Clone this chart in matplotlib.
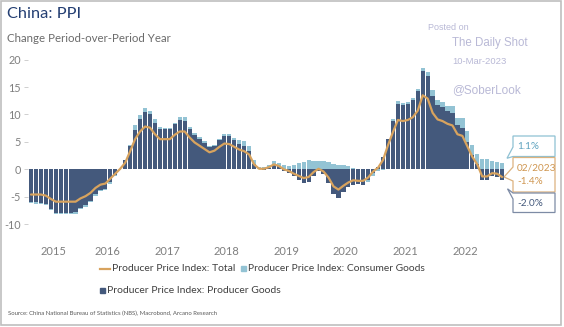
import numpy as np
import pandas as pd
import matplotlib
matplotlib.use("Agg")
import matplotlib.pyplot as plt
from matplotlib.patches import Polygon, Rectangle
from matplotlib.lines import Line2D

# ---------------------------------------------------------------- data
months = pd.period_range("2015-03", "2023-02", freq="M")

producer_goods = [
    -6.0, -6.0, -6.1, -6.4, -7.2, -7.9, -7.9, -7.9, -7.9, -7.8,                   # 2015
    -7.1, -6.5, -5.7, -4.5, -3.7, -3.5, -2.4, -1.1, 0.1, 1.7, 4.3, 7.2,            # 2016
    9.1, 10.4, 10.0, 8.5, 7.3, 7.3, 7.3, 8.2, 9.0, 8.9, 7.4, 6.3,                  # 2017
    5.5, 4.8, 4.0, 4.3, 5.3, 6.1, 6.0, 5.3, 4.7, 4.2, 3.3, 1.0,                    # 2018
    0.0, -0.1, 0.3, 1.0, 0.6, -0.3, -0.6, -1.3, -1.9, -2.5, -2.4, -1.2,            # 2019
    -0.3, -0.9, -2.5, -4.5, -5.2, -4.2, -3.3, -2.8, -2.7, -2.8, -2.0, -0.6,        # 2020
    0.4, 2.2, 5.6, 8.8, 12.0, 11.8, 12.0, 12.7, 14.2, 17.9, 17.0, 13.4,            # 2021
    11.8, 11.4, 10.7, 10.3, 8.1, 7.5, 5.0, 2.6, 0.9, -2.0, -2.0, -1.3,             # 2022
    -1.4, -2.0,                                                                   # 2023
]
consumer_goods = [
    -0.2, -0.3, -0.3, -0.2, -0.2, -0.3, -0.3, -0.3, -0.3, -0.3,
    -0.2, -0.3, -0.2, -0.3, -0.3, -0.2, -0.2, -0.2, 0.0, 0.0, 0.2, 0.8,
    0.8, 0.7, 0.6, 0.6, 0.4, 0.3, 0.2, 0.3, 0.6, 0.6, 0.4, 0.4,
    0.4, 0.4, 0.2, 0.2, 0.3, 0.4, 0.5, 0.5, 0.7, 0.9, 0.9, 0.7,
    0.5, 0.5, 0.5, 0.6, 0.6, 0.7, 0.6, 0.8, 1.1, 1.4, 1.7, 1.5,
    1.5, 1.5, 1.3, 1.0, 0.8, 0.7, 0.6, 0.3, 0.1, -0.1, -0.4, -0.6,
    -0.3, -0.2, 0.0, 0.3, 0.5, 0.3, 0.3, 0.3, 0.4, 0.6, 0.8, 1.0,
    0.8, 0.9, 0.9, 1.2, 1.2, 1.8, 2.0, 1.9, 1.9, 1.9, 1.8, 1.5,
    1.3, 1.1,
]
ppi_total = [
    -4.6, -4.6, -4.6, -4.8, -5.4, -5.9, -5.9, -5.9, -5.9, -5.9,
    -5.3, -4.9, -4.3, -3.4, -2.8, -2.6, -1.7, -0.8, 0.1, 1.2, 3.3, 5.5,
    6.9, 7.8, 7.6, 6.4, 5.5, 5.5, 5.5, 6.3, 6.9, 6.9, 5.8, 4.9,
    4.3, 3.7, 3.1, 3.4, 4.1, 4.7, 4.6, 4.1, 3.6, 3.3, 2.7, 0.9,
    0.1, 0.1, 0.4, 0.9, 0.6, 0.0, -0.3, -0.8, -1.2, -1.6, -1.4, -0.5,
    0.1, -0.4, -1.5, -3.1, -3.7, -3.0, -2.4, -2.0, -2.1, -2.1, -1.5, -0.4,
    0.3, 1.7, 4.4, 6.8, 9.0, 8.8, 9.0, 9.5, 10.7, 13.5, 12.9, 10.3,
    9.1, 8.8, 8.3, 8.0, 6.4, 6.1, 4.2, 2.3, 0.9, -1.3, -1.3, -0.7,
    -0.8, -1.4,
]
year_labels = [2015, 2016, 2017, 2018, 2019, 2020, 2021, 2022]
y_ticks = [-10, -5, 0, 5, 10, 15, 20]

label_total = "Producer Price Index: Total"
label_consumer = "Producer Price Index: Consumer Goods"
label_producer = "Producer Price Index: Producer Goods"

# ---------------------------------------------------------------- style
W, H = 564, 327
C_DARK = "#44597c"
C_LIGHT = "#93c3d4"
C_LINE = "#d8a35e"
C_TICK = "#7f7f7f"
C_TEXT = "#404040"
C_MARK = "#b9b9d6"
FONT = ["Lato", "DejaVu Sans"]
plt.rcParams["font.family"] = FONT


def fpos(x, y):
    """pixel position (origin top-left) -> figure fraction"""
    return x / W, 1 - y / H


fig = plt.figure(figsize=(W / 100, H / 100), dpi=100)
fig.patch.set_facecolor("white")

# plot area in pixels: left, top, right, bottom
L, T, R, B = 28, 48.7, 508, 235.1
ax = fig.add_axes([L / W, 1 - B / H, (R - L) / W, (B - T) / H])
ax.set_facecolor("none")

p = np.array(producer_goods)
c = np.array(consumer_goods)
t = np.array(ppi_total)
x = np.arange(len(months))

# consumer goods stack onto producer goods when both share a sign
c_base = np.where(np.sign(c) == np.sign(p), p, 0.0)

bw = 0.86
ax.bar(x, p, width=bw, color=C_DARK, linewidth=0, zorder=2)
ax.bar(x, c, width=bw, bottom=c_base, color=C_LIGHT, linewidth=0, zorder=2)
ax.plot(x, t, color=C_LINE, lw=1.6, zorder=3, solid_capstyle="round",
        solid_joinstyle="round")

ax.set_xlim(-0.6, 96.2)
ax.set_ylim(-12, 22)

# year labels centred on the visible part of each year
jan_idx = {yr: (pd.Period(f"{yr}-01", "M") - months[0]).n for yr in year_labels}
xl, xr = ax.get_xlim()
centres = []
for yr in year_labels:
    a = max(jan_idx[yr] - 0.5, xl)
    b = min(jan_idx[yr] + 11.5, xr)
    centres.append((a + b) / 2)
ax.set_xticks(centres)
ax.set_xticklabels([str(y) for y in year_labels])
ax.tick_params(axis="x", length=0, pad=8, labelsize=8, labelcolor=C_TICK)

ax.set_yticks(y_ticks)
ax.set_yticklabels([str(v) for v in y_ticks])
ax.tick_params(axis="y", length=3, width=0.6, color="#c8c8c8", pad=2,
               labelsize=7.8, labelcolor=C_TICK)
for s in ax.spines.values():
    s.set_visible(False)

# ---------------------------------------------------------------- titles
fig.text(*fpos(7, 14), "China: PPI", fontsize=11.8, color="#243f73",
         ha="left", va="center")
fig.text(*fpos(7, 38), "Change Period-over-Period Year", fontsize=8.3,
         color="#6b6b6b", ha="left", va="center")

# watermark
wm = ["Liberation Sans", "DejaVu Sans"]
fig.text(*fpos(428, 27), "Posted on", fontsize=6.5, color=C_MARK,
         family=wm, ha="left", va="center")
fig.text(*fpos(452, 43), "The Daily Shot", fontsize=8.3, color=C_MARK,
         family=wm, ha="left", va="center")
fig.text(*fpos(452, 61), "10-Mar-2023", fontsize=6.8, color=C_MARK,
         family=wm, ha="left", va="center")
fig.text(*fpos(452, 90), "@SoberLook", fontsize=8.5, color=C_MARK,
         family=wm, ha="left", va="center")

# ---------------------------------------------------------------- callouts
def data_px(xv, yv):
    dx, dy = ax.transData.transform((xv, yv))
    fx, fy = fig.transFigure.inverted().transform((dx, dy))
    return fx * W, (1 - fy) * H


last = x[-1]
_, yc = data_px(last, c_base[-1] + c[-1])
_, yt = data_px(last, t[-1])
_, yp = data_px(last, p[-1])
bx0, bx1 = 513, 555


def callout(pts, edge):
    poly = Polygon([fpos(px, py) for px, py in pts], closed=True,
                   transform=fig.transFigure, facecolor="white",
                   edgecolor=edge, lw=0.9, zorder=5)
    fig.add_artist(poly)


# consumer goods box
callout([(bx0, 136), (bx1, 136), (bx1, 156.5), (bx0, 156.5),
         (507, yc - 5), (bx0, 147)], "#8fc1d3")
fig.text(*fpos(517, 146.5), f"{c[-1]:.1f}%", fontsize=7.2, color="#5fa3bf",
         ha="left", va="center", zorder=6)

# total box
callout([(bx0, 157.5), (bx1, 157.5), (bx1, 192), (bx0, 192), (bx0, 181),
         (504, yt), (bx0, 167)], "#dcb27e")
fig.text(*fpos(517, 168), f"{months[-1].strftime('%m/%Y')}", fontsize=7.2,
         color="#cf9650", ha="left", va="center", zorder=6)
fig.text(*fpos(517, 181), f"{t[-1]:.1f}%", fontsize=7.2, color="#cf9650",
         ha="left", va="center", zorder=6)

# producer goods box
callout([(507.5, yp + 8.5), (bx0, 193), (bx1, 193), (bx1, 212.5),
         (bx0, 212.5), (bx0, 199)], "#7d8ba5")
fig.text(*fpos(517, 203), f"{p[-1]:.1f}%", fontsize=7.2, color=C_DARK,
         ha="left", va="center", zorder=6)

# ---------------------------------------------------------------- legend
fig.add_artist(Line2D([100 / W, 110 / W], [1 - 268.5 / H] * 2,
                      color=C_LINE, lw=1.6, transform=fig.transFigure))
fig.text(*fpos(112, 268.5), label_total, fontsize=7.5, color=C_TEXT,
         ha="left", va="center")
fig.add_artist(Rectangle(fpos(241, 271), 5 / W, 5 / H, color=C_LIGHT,
                         transform=fig.transFigure))
fig.text(*fpos(247.5, 268.5), label_consumer, fontsize=7.4, color=C_TEXT,
         ha="left", va="center")
fig.add_artist(Rectangle(fpos(100, 293), 5 / W, 5 / H, color=C_DARK,
                         transform=fig.transFigure))
fig.text(*fpos(107, 290.7), label_producer, fontsize=7.5, color=C_TEXT,
         ha="left", va="center")

fig.text(*fpos(8, 313), "Source: China National Bureau of Statistics (NBS), "
         "Macrobond, Arcano Research", fontsize=4.3, color="#595959",
         ha="left", va="center")

# outer frame
fig.add_artist(Rectangle(fpos(1, 325), 560 / W, 324 / H, fill=False,
                         edgecolor="#bfbfbf", lw=1.2,
                         transform=fig.transFigure))

fig.savefig("out.png", dpi=100, facecolor="white")
